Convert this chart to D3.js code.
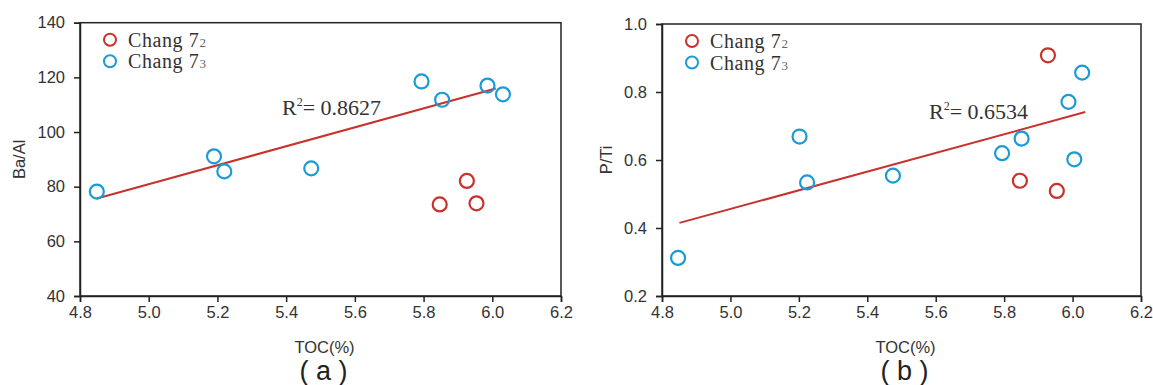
<!DOCTYPE html>
<html>
<head>
<meta charset="utf-8">
<script src="https://cdn.jsdelivr.net/npm/d3@7"></script>
<style>
  body { margin: 0; background: #fff; }
  svg { display: block; }
  .tick text { font-family: "Liberation Sans", Arial, sans-serif; font-size: 16.5px; fill: #333; }
  .tick line, .domain { stroke: #222; stroke-width: 1.5; }
</style>
</head>
<body>
<svg id="chart" width="1153" height="385"></svg>
<script>
// TOC (%) values and ratios
var a72_toc = [5.847, 5.926, 5.954];
var a72_baal = [73.5, 82.1, 73.9];
var a73_toc = [4.849, 5.190, 5.220, 5.473, 5.794, 5.854, 5.986, 6.031];
var a73_baal = [78.2, 91.1, 85.6, 86.7, 118.5, 111.8, 117.0, 113.8];
var a_fit = [[4.849, 75.7], [6.010, 115.9]];

var b72_toc = [5.928, 5.846, 5.954];
var b72_pti = [0.908, 0.539, 0.509];
var b73_toc = [4.847, 5.202, 5.224, 5.475, 5.794, 5.851, 5.988, 6.005, 6.028];
var b73_pti = [0.312, 0.669, 0.534, 0.554, 0.620, 0.663, 0.771, 0.602, 0.857];
var b_fit = [[4.851, 0.415], [6.037, 0.741]];

var xTicks = [4.8, 5.0, 5.2, 5.4, 5.6, 5.8, 6.0, 6.2];
var aTicks = [40, 60, 80, 100, 120, 140];
var bTicks = [0.2, 0.4, 0.6, 0.8, 1.0];

var red = "#c8322c", blue = "#1b9bd5";

var svg = d3.select("#chart");

function panel(opt) {
    var x = d3.scaleLinear().domain([4.8, 6.2]).range([opt.left, opt.right]);
    var y = d3.scaleLinear().domain(opt.yDomain).range([opt.bottom, opt.top]);
    var g = svg.append("g");

    // box
    g.append("rect")
        .attr("x", opt.left).attr("y", opt.top)
        .attr("width", opt.right - opt.left).attr("height", opt.bottom - opt.top)
        .attr("fill", "none").attr("stroke", "#222").attr("stroke-width", 1.5);

    g.append("g")
        .attr("transform", "translate(0," + opt.bottom + ")")
        .call(d3.axisBottom(x).tickValues(xTicks).tickSize(6).tickPadding(4).tickFormat(d3.format(".1f")));

    g.append("g")
        .attr("transform", "translate(" + opt.left + ",0)")
        .call(d3.axisLeft(y).tickValues(opt.yTicks).tickSize(6).tickPadding(9).tickFormat(opt.yFormat));

    // fit line
    g.append("line")
        .attr("x1", x(opt.fit[0][0])).attr("y1", y(opt.fit[0][1]))
        .attr("x2", x(opt.fit[1][0])).attr("y2", y(opt.fit[1][1]))
        .attr("stroke", red).attr("stroke-width", 2);

    function dots(xs, ys, color) {
        g.selectAll(null)
            .data(xs)
            .enter()
            .append("circle")
            .attr("cx", function(d) { return x(d); })
            .attr("cy", function(d, i) { return y(ys[i]); })
            .attr("r", 7)
            .attr("fill", "none")
            .attr("stroke", color)
            .attr("stroke-width", 2.2);
    }
    dots(opt.x73, opt.y73, blue);
    dots(opt.x72, opt.y72, red);

    // legend
    [["2", red], ["3", blue]].forEach(function(item, i) {
        var cy = opt.top + 17 + i * 21.5;
        g.append("circle")
            .attr("cx", opt.left + 30).attr("cy", cy).attr("r", 6)
            .attr("fill", "none").attr("stroke", item[1]).attr("stroke-width", 2);
        var t = g.append("text")
            .attr("x", opt.left + 48).attr("y", cy + 7)
            .attr("font-family", "Liberation Serif, Times New Roman, serif")
            .attr("font-size", 20).attr("fill", "#333")
            .style("letter-spacing", "0.6px");
        t.append("tspan").text("Chang 7");
        t.append("tspan").attr("font-size", 13).attr("fill", "#666").text(item[0]);
    });

    // R2 label
    var r = g.append("text")
        .attr("x", opt.rx).attr("y", opt.ry)
        .attr("font-family", "Liberation Serif, Times New Roman, serif")
        .attr("font-size", 22).attr("fill", "#333");
    r.append("tspan").text("R");
    r.append("tspan").attr("font-size", 12).attr("dy", -9).text("2");
    r.append("tspan").attr("dy", 9).text("= " + opt.r2);

    // axis titles
    g.append("text")
        .attr("transform", "translate(" + opt.yLabelX + "," + ((opt.top + opt.bottom) / 2) + ") rotate(-90)")
        .attr("text-anchor", "middle")
        .attr("font-family", "Liberation Sans, Arial, sans-serif")
        .attr("font-size", 16.5).attr("fill", "#333")
        .text(opt.yLabel);

    g.append("text")
        .attr("x", (opt.left + opt.right) / 2 + 4).attr("y", 353)
        .attr("text-anchor", "middle")
        .attr("font-family", "Liberation Sans, Arial, sans-serif")
        .attr("font-size", 16.5).attr("fill", "#333")
        .text("TOC(%)");

    g.append("text")
        .attr("x", (opt.left + opt.right) / 2 + 3).attr("y", 380)
        .attr("text-anchor", "middle")
        .attr("font-family", "Liberation Sans, Arial, sans-serif")
        .attr("font-size", 27).attr("fill", "#222")
        .text(opt.caption);
}

panel({
    left: 80, right: 561, top: 22.7, bottom: 296,
    yDomain: [40, 140], yTicks: aTicks, yFormat: d3.format("d"),
    x72: a72_toc, y72: a72_baal, x73: a73_toc, y73: a73_baal, fit: a_fit,
    rx: 282, ry: 115, r2: "0.8627",
    yLabel: "Ba/Al", yLabelX: 25, caption: "( a )"
});

panel({
    left: 662, right: 1141, top: 24, bottom: 296,
    yDomain: [0.2, 1.0], yTicks: bTicks, yFormat: d3.format(".1f"),
    x72: b72_toc, y72: b72_pti, x73: b73_toc, y73: b73_pti, fit: b_fit,
    rx: 929, ry: 119, r2: "0.6534",
    yLabel: "P/Ti", yLabelX: 612, caption: "( b )"
});
</script>
</body>
</html>
